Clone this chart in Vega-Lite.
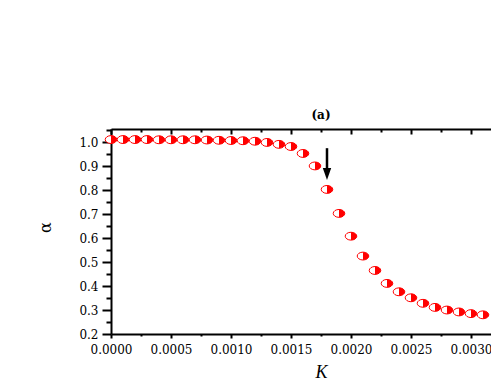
{
  "$schema": "https://vega.github.io/schema/vega-lite/v6.json",
  "autosize": {"type": "none"},
  "padding": {"left": 111, "top": 129, "right": 0, "bottom": 48},
  "width": 380,
  "height": 205,
  "background": "white",
  "view": {"stroke": null},
  "title": {"text": "(a)", "font": "DejaVu Serif", "fontSize": 12, "fontWeight": "bold", "color": "black", "anchor": "middle", "dx": 20, "offset": 6},
  "datasets": {
    "pts": [
      {"k": 0.0000, "alpha": 1.011}, {"k": 0.0001, "alpha": 1.011}, {"k": 0.0002, "alpha": 1.011},
      {"k": 0.0003, "alpha": 1.011}, {"k": 0.0004, "alpha": 1.010}, {"k": 0.0005, "alpha": 1.010},
      {"k": 0.0006, "alpha": 1.010}, {"k": 0.0007, "alpha": 1.010}, {"k": 0.0008, "alpha": 1.009},
      {"k": 0.0009, "alpha": 1.008}, {"k": 0.0010, "alpha": 1.007}, {"k": 0.0011, "alpha": 1.006},
      {"k": 0.0012, "alpha": 1.004}, {"k": 0.0013, "alpha": 0.999}, {"k": 0.0014, "alpha": 0.991},
      {"k": 0.0015, "alpha": 0.982}, {"k": 0.0016, "alpha": 0.953}, {"k": 0.0017, "alpha": 0.901},
      {"k": 0.0018, "alpha": 0.803}, {"k": 0.0019, "alpha": 0.703}, {"k": 0.0020, "alpha": 0.608},
      {"k": 0.0021, "alpha": 0.525}, {"k": 0.0022, "alpha": 0.465}, {"k": 0.0023, "alpha": 0.411},
      {"k": 0.0024, "alpha": 0.376}, {"k": 0.0025, "alpha": 0.351}, {"k": 0.0026, "alpha": 0.328},
      {"k": 0.0027, "alpha": 0.311}, {"k": 0.0028, "alpha": 0.300}, {"k": 0.0029, "alpha": 0.292},
      {"k": 0.0030, "alpha": 0.285}, {"k": 0.0031, "alpha": 0.280}
    ],
    "arrow": [
      {"k": 0.0018, "y1": 0.975, "y2": 0.885, "head": 0.867}
    ]
  },
  "layer": [
    {
      "data": {"name": "pts"},
      "mark": {"type": "point", "shape": "M-1,0A1,0.68,0,1,1,1,0A1,0.68,0,1,1,-1,0Z", "filled": true, "fill": "white", "stroke": "#ff0000", "strokeWidth": 1, "size": 134, "opacity": 1},
      "encoding": {
        "x": {"field": "k", "type": "quantitative", "scale": {"domain": [0, 0.0031667], "nice": false, "zero": false},
          "axis": {"orient": "bottom", "values": [0, 0.0005, 0.001, 0.0015, 0.002, 0.0025, 0.003], "format": ".4f", "grid": false,
            "domainColor": "black", "domainWidth": 2, "tickColor": "black", "tickWidth": 2, "tickSize": 4,
            "labelFont": "DejaVu Serif", "labelFontSize": 12, "labelColor": "black", "labelPadding": 6, "labelFlush": false, "labelOverlap": false,
            "title": "K", "titleFont": "Liberation Serif", "titleFontStyle": "italic", "titleFontWeight": "normal", "titleFontSize": 18, "titleColor": "black",
            "titleX": 210, "titleY": 38, "titleBaseline": "middle", "titleAlign": "center"}},
        "y": {"field": "alpha", "type": "quantitative", "scale": {"domain": [0.2, 1.055], "nice": false, "zero": false},
          "axis": {"orient": "left", "values": [0.2, 0.3, 0.4, 0.5, 0.6, 0.7, 0.8, 0.9, 1.0], "format": ".1f", "grid": false,
            "domainColor": "black", "domainWidth": 2, "tickColor": "black", "tickWidth": 2, "tickSize": 9,
            "labelFont": "DejaVu Serif", "labelFontSize": 12, "labelColor": "black", "labelPadding": 4, "labelFlush": false, "labelOverlap": false,
            "title": "α", "titleFont": "DejaVu Serif", "titleFontWeight": "normal", "titleFontSize": 16, "titleColor": "black",
            "titleX": -66, "titleY": 98, "titleAngle": -90, "titleBaseline": "middle", "titleAlign": "center"}}
      }
    },
    {
      "data": {"name": "pts"},
      "mark": {"type": "point", "shape": "M0,-0.68A1,0.68,0,0,1,0,0.68Z", "filled": true, "fill": "#ff0000", "strokeWidth": 0, "size": 134, "opacity": 1},
      "encoding": {
        "x": {"field": "k", "type": "quantitative",
          "axis": {"orient": "bottom", "values": [0.00025, 0.00075, 0.00125, 0.00175, 0.00225, 0.00275], "labels": false, "domain": false, "grid": false,
            "tickColor": "black", "tickWidth": 2, "tickSize": 2, "title": null}},
        "y": {"field": "alpha", "type": "quantitative",
          "axis": {"orient": "left", "values": [0.25, 0.35, 0.45, 0.55, 0.65, 0.75, 0.85, 0.95, 1.05], "labels": false, "domain": false, "grid": false,
            "tickColor": "black", "tickWidth": 2, "tickSize": 5, "title": null}}
      }
    },
    {
      "data": {"name": "arrow"},
      "mark": {"type": "rule", "color": "black", "strokeWidth": 2.5},
      "encoding": {
        "x": {"field": "k", "type": "quantitative",
          "axis": {"orient": "top", "values": [0, 0.0005, 0.001, 0.0015, 0.002, 0.0025, 0.003], "labels": false, "grid": false,
            "domainColor": "black", "domainWidth": 2, "tickColor": "black", "tickWidth": 2, "tickSize": -5, "title": null}},
        "y": {"field": "y1", "type": "quantitative", "axis": null},
        "y2": {"field": "y2"}
      }
    },
    {
      "data": {"name": "arrow"},
      "mark": {"type": "point", "shape": "M-0.7,-1L0.7,-1L0,1Z", "filled": true, "fill": "black", "strokeWidth": 0, "size": 144, "opacity": 1},
      "encoding": {
        "x": {"field": "k", "type": "quantitative",
          "axis": {"orient": "top", "values": [0.00025, 0.00075, 0.00125, 0.00175, 0.00225, 0.00275], "labels": false, "domain": false, "grid": false,
            "tickColor": "black", "tickWidth": 2, "tickSize": -3, "title": null}},
        "y": {"field": "head", "type": "quantitative", "axis": null}
      }
    }
  ],
  "resolve": {"axis": {"x": "independent", "y": "independent"}}
}
